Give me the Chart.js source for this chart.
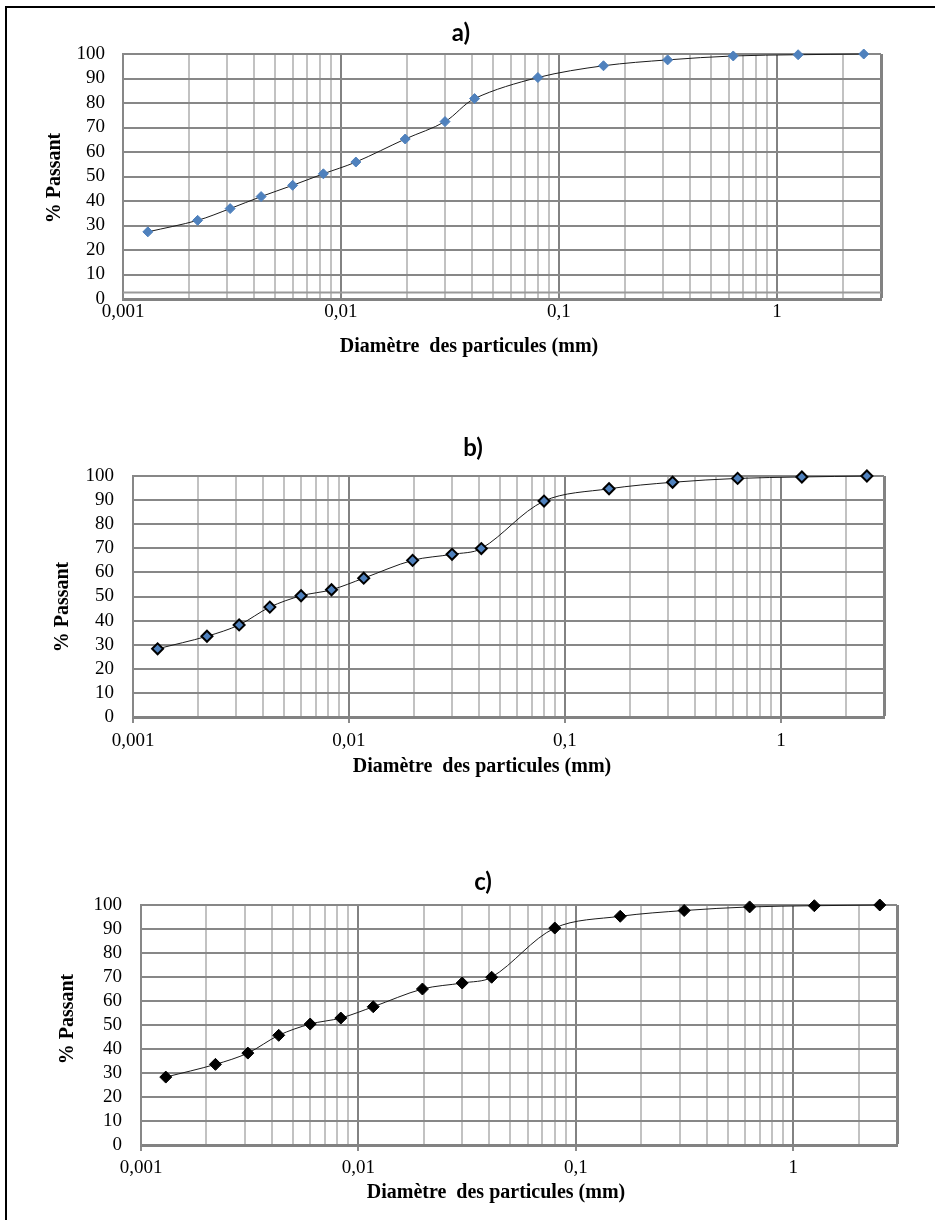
<!DOCTYPE html>
<html>
<head>
<meta charset="utf-8">
<script src="https://cdn.jsdelivr.net/npm/chart.js@4.4.0/dist/chart.umd.min.js"></script>
<style>
  body { margin: 0; background: #fff; }
  #page { position: relative; width: 935px; height: 1220px; overflow: hidden; background: #fff; }
  #cadre { position: absolute; left: 5px; top: 6px; width: 1000px; height: 1300px;
           border-top: 2px solid #000; border-left: 2px solid #000; }
  canvas { position: absolute; left: 0; }
</style>
</head>
<body>
<div id="page">
  <div id="cadre"></div>
  <canvas id="grapheA" width="935" height="362" style="top:8px"></canvas>
  <canvas id="grapheB" width="935" height="370" style="top:420px"></canvas>
  <canvas id="grapheC" width="935" height="360" style="top:850px"></canvas>
</div>
<script>
// diamètres des particules (mm)
const diametres = [0.0013, 0.0022, 0.0031, 0.0043, 0.006, 0.0083, 0.0117, 0.0197, 0.030, 0.041, 0.08, 0.16, 0.315, 0.63, 1.25, 2.5];

// % passant pour chaque échantillon
const passantA = [27.4, 32.1, 36.9, 41.8, 46.4, 51.1, 55.9, 65.3, 72.4, 81.8, 90.4, 95.2, 97.6, 99.2, 99.7, 100];
const passantB = [28.3, 33.5, 38.2, 45.6, 50.3, 52.8, 57.6, 65.0, 67.5, 69.9, 89.6, 94.7, 97.4, 99.0, 99.6, 100];
const passantC = [28.3, 33.6, 38.3, 45.7, 50.4, 52.9, 57.6, 65.0, 67.5, 69.9, 90.4, 95.3, 97.7, 99.2, 99.7, 100];

// ligne horizontale grise visible en bas du graphe a)
const ligneA = 2.7;

// axes
const xDecades = [0.001, 0.01, 0.1, 1];
const xMultiples = [1, 2, 3, 4, 5, 6, 7, 8, 9];
const xMin = 0.001;
const xMax = 3;
const yMin = 0;
const yMax = 100;
const yPas = 10;

// textes
const titres = ['a)', 'b)', 'c)'];
const titreAxeX = 'Diamètre  des particules (mm)';
const titreAxeY = '% Passant';

// graduations log : 1..9 dans chaque décade, puis le max
const xGraduations = [];
xDecades.forEach(d => {
    xMultiples.forEach(m => {
        const v = Number((d * m).toPrecision(6));
        if (v < xMax) xGraduations.push(v);
    });
});
xGraduations.push(xMax);

const estDecade = v => xDecades.some(d => Math.abs(v - d) < d * 1e-6);

// plugin pour écrire le titre et les titres d'axes
const textesPlugin = {
    id: 'textes',
    afterDraw(chart, args, opts) {
        const ctx = chart.ctx;
        ctx.save();
        ctx.fillStyle = '#000';
        ctx.textAlign = 'center';
        ctx.textBaseline = 'middle';
        ctx.font = 'bold 24px Lato';
        ctx.fillText(opts.titre, opts.titreX, opts.titreY);
        ctx.font = 'bold 20px "Liberation Serif"';
        ctx.fillText(titreAxeX, opts.axeXx, opts.axeXy);
        ctx.translate(opts.axeYx, opts.axeYy);
        ctx.rotate(-Math.PI / 2);
        ctx.fillText(titreAxeY, 0, 0);
        ctx.restore();
    }
};

function construireGraphe(id, titre, passant, style, geo) {
    const T = geo.top;
    const H = document.getElementById(id).height;
    const hauteurX = 40;

    const datasets = [{
        data: diametres.map((d, i) => ({ x: d, y: passant[i] })),
        borderColor: '#1b1b1b',
        borderWidth: 1,
        tension: 0.33,
        fill: false,
        clip: false,
        pointStyle: 'rectRot',
        pointRadius: style.rayon,
        pointBackgroundColor: style.fond,
        pointBorderColor: style.bord,
        pointBorderWidth: style.epaisseur
    }];

    if (style.ligne !== undefined) {
        datasets.push({
            data: [{ x: xMin, y: style.ligne }, { x: xMax, y: style.ligne }],
            borderColor: '#9a9a9a',
            borderWidth: 2,
            pointRadius: 0,
            tension: 0,
            fill: false
        });
    }

    return new Chart(document.getElementById(id), {
        type: 'line',
        data: { datasets: datasets },
        options: {
            responsive: false,
            animation: false,
            layout: {
                padding: {
                    top: geo.plotTop - T,
                    left: 0,
                    right: 935 - geo.plotRight,
                    bottom: H - (geo.plotBottom - T) - hauteurX
                }
            },
            plugins: {
                legend: { display: false },
                tooltip: { enabled: false },
                textes: {
                    titre: titre,
                    titreX: geo.titreX, titreY: geo.titreY - T,
                    axeXx: geo.axeXx, axeXy: geo.axeXy - T,
                    axeYx: geo.axeYx, axeYy: geo.axeYy - T
                }
            },
            scales: {
                x: {
                    type: 'logarithmic',
                    min: xMin,
                    max: xMax,
                    afterBuildTicks: axe => {
                        axe.ticks = xGraduations.map(v => ({ value: v, major: estDecade(v) }));
                    },
                    afterFit: axe => { axe.height = hauteurX; },
                    ticks: {
                        autoSkip: false,
                        maxRotation: 0,
                        padding: geo.xPadding,
                        color: '#000',
                        font: { family: '"Liberation Serif"', size: 19 },
                        callback: v => estDecade(v) ? String(v).replace('.', ',') : ''
                    },
                    grid: {
                        drawTicks: geo.marques,
                        tickLength: 6,
                        tickColor: c => estDecade(c.tick.value) ? '#8a8a8a' : 'rgba(0,0,0,0)',
                        tickWidth: 2,
                        color: c => {
                            const v = c.tick.value;
                            if (v === xMax || estDecade(v)) return '#828282';
                            return '#c2c2c2';
                        },
                        lineWidth: c => c.tick.value === xMax ? 3 : 2
                    },
                    border: { display: true, color: '#828282', width: 3 }
                },
                y: {
                    min: yMin,
                    max: yMax,
                    afterFit: axe => { axe.width = geo.plotLeft; },
                    ticks: {
                        stepSize: yPas,
                        autoSkip: false,
                        padding: geo.yPadding,
                        color: '#000',
                        font: { family: '"Liberation Serif"', size: 19 }
                    },
                    grid: {
                        drawTicks: false,
                        color: '#878787',
                        lineWidth: 2
                    },
                    border: { display: true, color: '#878787', width: 2 }
                }
            }
        },
        plugins: [textesPlugin]
    });
}

construireGraphe('grapheA', titres[0], passantA,
    { rayon: 5, fond: '#4f81bd', bord: '#4f81bd', epaisseur: 1, ligne: ligneA },
    { top: 8, plotTop: 54, plotBottom: 299, plotLeft: 123, plotRight: 881,
      xPadding: 2, yPadding: 18, marques: false,
      titreX: 461, titreY: 33, axeXx: 469, axeXy: 347, axeYx: 55, axeYy: 178 });

construireGraphe('grapheB', titres[1], passantB,
    { rayon: 5.5, fond: '#4f81bd', bord: '#000', epaisseur: 2 },
    { top: 420, plotTop: 476, plotBottom: 717, plotLeft: 133, plotRight: 884,
      xPadding: 7, yPadding: 19, marques: true,
      titreX: 473, titreY: 448, axeXx: 482, axeXy: 767, axeYx: 63, axeYy: 607 });

construireGraphe('grapheC', titres[2], passantC,
    { rayon: 6, fond: '#000', bord: '#000', epaisseur: 1 },
    { top: 850, plotTop: 905, plotBottom: 1145, plotLeft: 141, plotRight: 897,
      xPadding: 6, yPadding: 19, marques: true,
      titreX: 483, titreY: 882, axeXx: 496, axeXy: 1193, axeYx: 68, axeYy: 1019 });
</script>
</body>
</html>
